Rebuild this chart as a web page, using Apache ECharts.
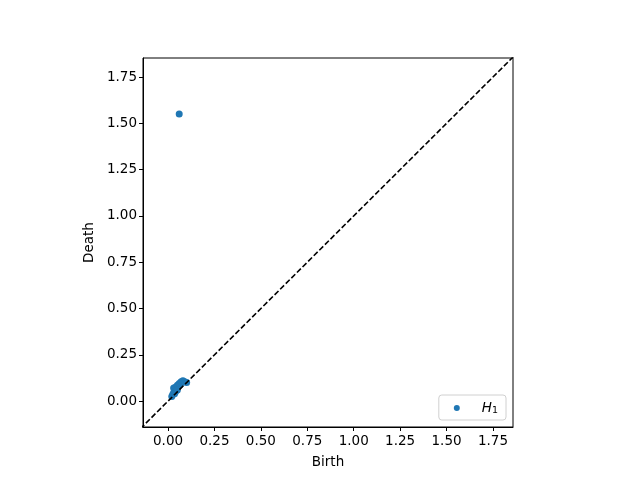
<!DOCTYPE html>
<html><head><meta charset="utf-8">
<script src="https://cdn.jsdelivr.net/npm/echarts@6/dist/echarts.min.js"></script>
<style>html,body{margin:0;padding:0;background:#fff}#c{width:640px;height:480px}</style>
</head><body><div id="c"></div>
<script>
const tickValues = [0, 0.25, 0.5, 0.75, 1.0, 1.25, 1.5, 1.75];
const birth = [0.060, 0.020, 0.025, 0.030, 0.030, 0.035, 0.040, 0.040, 0.045, 0.050, 0.055, 0.060, 0.065, 0.070, 0.075, 0.080, 0.090, 0.100, 0.035, 0.050];
const death = [1.550, 0.025, 0.035, 0.045, 0.070, 0.060, 0.050, 0.075, 0.065, 0.085, 0.080, 0.095, 0.090, 0.105, 0.100, 0.110, 0.105, 0.100, 0.040, 0.060];
const diag = [-0.3, 2.0];

const pts = birth.map((b, i) => [b, death[i]]);
const chart = echarts.init(document.getElementById('c'));
const font = 'DejaVu Sans';
const axisCommon = {
  type: 'value', min: -0.135, max: 1.858,
  axisLine: { show: true, onZero: false, lineStyle: { color: '#000', width: 1 } },
  axisTick: { show: true, inside: false, length: 4, lineStyle: { color: '#000' }, customValues: tickValues },
  axisLabel: { color: '#000', fontFamily: font, fontSize: 13.5, customValues: tickValues, formatter: v => v.toFixed(2) },
  splitLine: { show: false },
  nameLocation: 'middle',
  nameTextStyle: { color: '#000', fontFamily: font, fontSize: 13.5 }
};
chart.setOption({
  animation: false,
  grid: { left: 143, top: 58, width: 370, height: 369, show: true, borderColor: '#000', borderWidth: 1, backgroundColor: '#fff' },
  xAxis: Object.assign({}, axisCommon, { name: 'Birth', nameGap: 28, min: -0.135, max: 1.858, axisLabel: Object.assign({}, axisCommon.axisLabel, { margin: 7 }) }),
  yAxis: Object.assign({}, axisCommon, { name: 'Death', nameGap: 46, min: -0.14, max: 1.853, axisLabel: Object.assign({}, axisCommon.axisLabel, { margin: 6 }) }),
  legend: {
    right: 134, bottom: 60, orient: 'vertical',
    data: [{ name: 'H1', icon: 'circle' }],
    itemWidth: 6, itemHeight: 6, itemGap: 5,
    padding: [6, 8, 4, 15],
    borderColor: '#d0d0d0', borderWidth: 1, borderRadius: 3, backgroundColor: '#fff',
    formatter: () => '{i|H}{s|1}',
    textStyle: {
      padding: [0, 0, 0, 17],
      rich: {
        i: { fontFamily: font, fontStyle: 'italic', fontSize: 13.5, color: '#000' },
        s: { fontFamily: font, fontSize: 9.5, color: '#000', padding: [6, 0, 0, 0] }
      }
    }
  },
  series: [
    { type: 'line', data: diag.map(v => [v, v]), symbol: 'none', silent: true, clip: true,
      lineStyle: { color: '#000', type: [5.5, 2.4], width: 1.6 }, z: 3 },
    { name: 'H1', type: 'scatter', data: pts, symbolSize: 7, itemStyle: { color: '#1f77b4', opacity: 1 }, z: 2 }
  ]
});
</script></body></html>
